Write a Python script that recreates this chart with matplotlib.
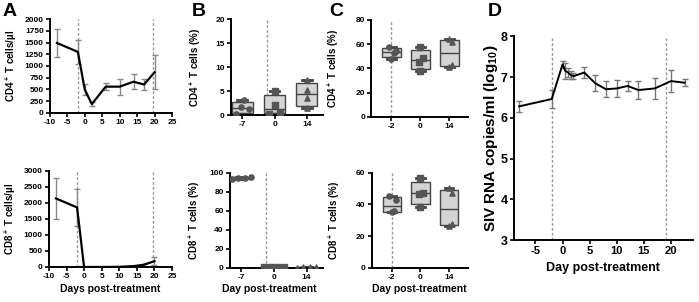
import numpy as np
import matplotlib
matplotlib.use("Agg")
from matplotlib import pyplot as plt

plt.rcParams['font.family'] = ['Liberation Sans', 'DejaVu Sans']
plt.rcParams['font.weight'] = 'bold'
plt.rcParams['axes.labelweight'] = 'bold'
plt.rcParams['mathtext.fontset'] = 'custom'
plt.rcParams['mathtext.bf'] = 'Liberation Sans:bold'
plt.rcParams['mathtext.rm'] = 'Liberation Sans:bold'
plt.rcParams['mathtext.default'] = 'bf'

# --- panel A: absolute counts
blood_days = [-8, -2, 0, 2, 6, 10, 14, 17, 20]
cd4_count = [1490, 1300, 495, 190, 560, 560, 665, 605, 865]
cd4_err = [300, 260, 120, 45, 70, 170, 160, 110, 360]
cd8_count = [2140, 1860, 0, 0, 0, 5, 25, 70, 180]
cd8_err = [630, 590, 0, 0, 0, 0, 10, 30, 130]
a_marks = [-2, 19.5]

# --- panel B: tissue percentages
b_labels = ['-7', '0', '14']
b_cd4 = [[0.3, 1.2, 1.6, 3.2], [0.3, 0.5, 2.1, 5.0], [1.4, 3.5, 5.3, 7.2]]
b_cd8 = [[93.5, 94.5, 95.0, 96.0], [0.4, 0.6, 0.8, 1.0], [0.3, 0.4, 0.5, 0.6]]
b_mark = 0.75

# --- panel C
c_labels = ['-2', '0', '14']
c_cd4 = [[48, 53, 54, 58], [38, 45, 48.3, 57.4], [41.4, 42.8, 62, 64.3]]
c_cd8 = [[35.4, 35.6, 42.5, 45.6], [38.3, 46.4, 47.5, 56.5], [26.6, 27.4, 47, 50.2]]
c_mark = 0

# --- panel D: viral load
siv_days = [-8, -2, 0, 0.5, 1, 1.5, 2, 4, 6, 8, 10, 12, 14, 17, 20, 22.5]
siv_log = [6.28, 6.46, 7.31, 7.15, 7.11, 7.05, 7.02, 7.11, 6.85, 6.70, 6.72,
           6.78, 6.68, 6.72, 6.90, 6.86]
siv_err = [0.13, 0.22, 0.09, 0.2, 0.12, 0.1, 0.08, 0.14, 0.2, 0.2, 0.2,
           0.12, 0.21, 0.26, 0.27, 0.08]
d_marks = [-2, 19]

markers = ['o', 's', '^']
dash_kw = dict(color='#999999', lw=1.0, ls=(0, (2, 1.5)), zorder=0)
B = dict(fontweight='bold')


def style(ax, tick_size=6):
    for s in ['top', 'right']:
        ax.spines[s].set_visible(False)
    for s in ['left', 'bottom']:
        ax.spines[s].set_linewidth(1.4)
    ax.tick_params(width=1.2, length=3, labelsize=tick_size, pad=1.5)


def ticks(ax, xt, yt, xl=None, xs=6, ys=6):
    xl = xl if xl is not None else ['%g' % v for v in xt]
    ax.set_xticks(xt, xl, fontweight='bold', fontsize=xs)
    ax.set_yticks(yt, ['%g' % v for v in yt], fontweight='bold', fontsize=ys)


def line_panel(ax, y, err, ymax, step):
    ax.errorbar(blood_days, y, yerr=err, color='black', lw=1.6,
                ecolor='#888888', elinewidth=1.0, capsize=2, capthick=1.0)
    for m in a_marks:
        ax.axvline(m, **dash_kw)
    ax.set_xlim(-10, 25)
    ax.set_ylim(0, ymax)
    style(ax)
    ticks(ax, np.arange(-10, 26, 5), np.arange(0, ymax + 1, step))


def box_panel(ax, groups, labels, ymax, step, mark, xmin, xmax, offs):
    stats = []
    for g in groups:
        q1, med, q3 = np.percentile(g, [25, 50, 75], method='weibull')
        stats.append(dict(med=med, q1=q1, q3=q3, whislo=min(g), whishi=max(g)))
    ax.bxp(stats, positions=range(len(groups)), widths=0.65, patch_artist=True,
           showfliers=False,
           boxprops=dict(facecolor='#d4d4d4', edgecolor='#444444', lw=1.0),
           medianprops=dict(color='#444444', lw=1.0),
           whiskerprops=dict(color='#444444', lw=1.0),
           capprops=dict(color='#444444', lw=2.0), capwidths=0.3)
    for i, g in enumerate(groups):
        ax.scatter(np.full(len(g), i) + np.array(offs[i]), g, marker=markers[i],
                   s=14, color='#555555', zorder=3)
    ax.axvline(mark, **dash_kw)
    ax.set_xlim(xmin, xmax)
    ax.set_ylim(0, ymax)
    style(ax)
    ticks(ax, range(len(groups)), np.arange(0, ymax + 1, step), labels)


fig = plt.figure(figsize=(6.99, 3.02), dpi=100)

ax = fig.add_axes([0.0715, 0.626, 0.1745, 0.311])
line_panel(ax, cd4_count, cd4_err, 2000, 250)
ax.set_ylabel('CD4$^+$ T cells/µl', fontsize=7, **B)
ax.yaxis.set_label_coords(-0.25, 0.5)

ax = fig.add_axes([0.070, 0.116, 0.176, 0.318])
line_panel(ax, cd8_count, cd8_err, 3000, 500)
ax.set_ylabel('CD8$^+$ T cells/µl', fontsize=7, **B)
ax.yaxis.set_label_coords(-0.25, 0.5)
ax.set_xlabel('Days post-treatment', fontsize=7.5, **B)
ax.xaxis.set_label_coords(0.5, -0.18)

near = [[-0.2, 0.2, -0.05, 0.05], [-0.18, 0.18, 0.0, 0.0], [0.0, 0.0, 0.0, 0.0]]
wide = [[-0.3, -0.1, 0.1, 0.3]] * 3

ax = fig.add_axes([0.3305, 0.619, 0.1316, 0.318])
box_panel(ax, b_cd4, b_labels, 20, 5, b_mark, -0.35, 2.5, near)
ax.set_ylabel('CD4$^+$ T cells (%)', fontsize=7, **B)
ax.yaxis.set_label_coords(-0.30, 0.5)

ax = fig.add_axes([0.329, 0.113, 0.133, 0.315])
box_panel(ax, b_cd8, b_labels, 100, 20, b_mark, -0.35, 2.5, wide)
ax.set_ylabel('CD8$^+$ T cells (%)', fontsize=7, **B)
ax.yaxis.set_label_coords(-0.30, 0.5)
ax.set_xlabel('Day post-treatment', fontsize=7.5, **B)
ax.xaxis.set_label_coords(0.42, -0.17)

near_c = [[0.0, 0.08, 0.15, -0.1], [0.0, -0.05, 0.1, 0.0], [0.0, 0.1, 0.1, 0.0]]

ax = fig.add_axes([0.531, 0.613, 0.139, 0.321])
box_panel(ax, c_cd4, c_labels, 80, 20, c_mark, -0.7, 2.65, near_c)
ax.set_ylabel('CD4$^+$ T cells (%)', fontsize=7, **B)
ax.yaxis.set_label_coords(-0.31, 0.5)

ax = fig.add_axes([0.532, 0.113, 0.137, 0.315])
box_panel(ax, c_cd8, c_labels, 60, 20, c_mark, -0.7, 2.65, near_c)
ax.set_ylabel('CD8$^+$ T cells (%)', fontsize=7, **B)
ax.yaxis.set_label_coords(-0.31, 0.5)
ax.set_xlabel('Day post-treatment', fontsize=7.5, **B)
ax.xaxis.set_label_coords(0.5, -0.17)

ax = fig.add_axes([0.735, 0.205, 0.256, 0.675])
ax.errorbar(siv_days, siv_log, yerr=siv_err, color='black', lw=1.4,
            ecolor='#777777', elinewidth=1.0, capsize=2, capthick=1.0)
for m in d_marks:
    ax.axvline(m, **dash_kw)
ax.set_xlim(-9, 24)
ax.set_ylim(3, 8)
style(ax)
ticks(ax, np.arange(-5, 21, 5), range(3, 9), xs=8, ys=9)
ax.set_ylabel('SIV RNA copies/ml (log$_{10}$)', fontsize=11, **B)
ax.yaxis.set_label_coords(-0.078, 0.5)
ax.set_xlabel('Day post-treatment', fontsize=9, **B)
ax.xaxis.set_label_coords(0.5, -0.108)

for letter, x in [('A', 0.004), ('B', 0.274), ('C', 0.471), ('D', 0.698)]:
    fig.text(x, 0.99, letter, fontsize=14, fontweight='bold', va='top')

fig.savefig('out.png', dpi=100)
